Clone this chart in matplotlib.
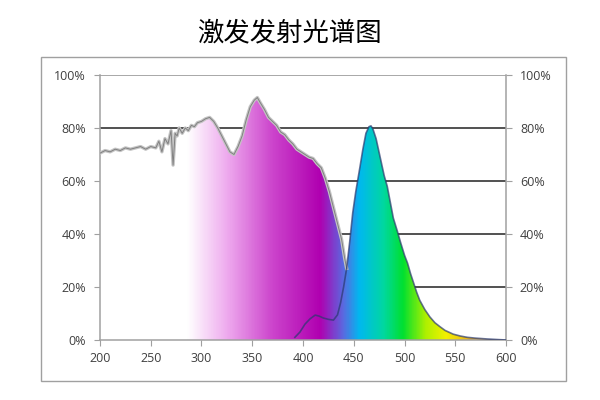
import numpy as np
import matplotlib.pyplot as plt
from matplotlib.colors import LinearSegmentedColormap
from matplotlib.patches import Rectangle

plt.rcParams['font.family'] = ['Noto Sans CJK SC', 'DejaVu Sans']

# excitation spectrum (nm, %)
exc_wl = [200, 205, 210, 215, 220, 225, 230, 235, 240, 245, 250, 255, 258, 261, 264,
          267, 270, 272, 274, 276, 278, 281, 284, 287, 290, 293, 296, 300, 304, 308,
          312, 316, 320, 324, 328, 332, 336, 340, 344, 348, 352, 355, 358, 362, 366,
          370, 374, 378, 382, 386, 390, 394, 398, 402, 406, 410, 414, 418, 422, 426,
          430, 434, 438, 441, 443]
exc_val = [70.5, 71.5, 71, 72, 71.5, 72.5, 72, 72.5, 73, 72, 73, 72.5, 75, 71, 76,
           74, 79, 66, 78, 77, 80, 78, 80, 79, 81, 80.5, 82, 82.5, 83.5, 84,
           82.5, 80, 77, 74, 71, 70, 73, 77, 83, 88, 90.5, 91.5, 89.5, 87, 84,
           82.5, 81, 78.5, 77.5, 75.5, 74, 72, 71, 70, 69, 68.5, 66.5, 65, 61, 56,
           50, 44, 38, 31, 27]

# emission spectrum (nm, %)
em_wl = [392, 397, 402, 407, 412, 416, 420, 425, 430, 434, 437, 440, 443, 446, 449,
         452, 456, 459, 462, 465, 467, 469, 472, 476, 480, 483, 486, 489, 493, 496,
         500, 503, 506, 509, 512, 515, 520, 525, 530, 535, 540, 548, 555, 562, 570,
         581, 590, 600]
em_val = [1, 3, 6, 8, 9.4, 9, 8.3, 7.8, 7.5, 9.5, 14, 20, 27, 37, 48,
          56, 65, 72, 78, 80.5, 80.8, 79.5, 76, 69, 62, 58, 52, 46, 41, 37,
          32, 29, 25, 21.5, 18, 15, 11.5, 8.7, 6.5, 5, 3.6, 2.2, 1.5, 1, 0.7,
          0.4, 0.2, 0]

yticks = [0, 20, 40, 60, 80, 100]
ytick_labels = ['0%', '20%', '40%', '60%', '80%', '100%']
xticks = [200, 250, 300, 350, 400, 450, 500, 550, 600]

# colour stops along wavelength
stop_wl = [200, 286, 325, 370, 417, 440, 456, 480, 499, 522, 542, 565, 600]
stop_col = ['#ffffff', '#ffffff', '#eeaaee', '#cc44cc', '#b000b0', '#5a6ae0',
            '#00b8f0', '#00d8a0', '#00e030', '#b0f000', '#f4f000', '#e8b020', '#e07a20']
cmap = LinearSegmentedColormap.from_list(
    'spec', [((w - 200) / 400, c) for w, c in zip(stop_wl, stop_col)])

fig = plt.figure(figsize=(6, 4), dpi=100)
fig.patches.append(Rectangle((41 / 600, 19 / 400), 525 / 600, 324 / 400,
                             transform=fig.transFigure, fill=False,
                             edgecolor='#a0a0a0', lw=1))
fig.text(0.483, 0.917, '激发发射光谱图', ha='center', va='center', fontsize=19)

ax = fig.add_axes([100 / 600, 60 / 400, 406 / 600, 265 / 400])
ax.set_xlim(200, 600)
ax.set_ylim(0, 100)

grad = np.linspace(0, 1, 800).reshape(1, -1)
for wl, val in [(exc_wl, exc_val), (em_wl, em_val)]:
    poly = ax.fill_between(wl, 0, val, color='none', lw=0)
    im = ax.imshow(grad, cmap=cmap, extent=[200, 600, 0, 100], aspect='auto',
                   origin='lower', zorder=2)
    im.set_clip_path(poly.get_paths()[0], transform=ax.transData)

for y in [20, 40, 60, 80]:
    ax.axhline(y, color='#222222', lw=1.1, zorder=1)
ax.axhline(100, color='#9a9a9a', lw=1.2, zorder=1)

ax.plot(exc_wl, exc_val, color='#c4c4c4', lw=2.4, zorder=3)
ax.plot(exc_wl, exc_val, color='#707070', lw=0.7, alpha=0.8, zorder=3)
ax.plot(em_wl, em_val, color='#2a3a70', lw=1.2, alpha=0.7, zorder=3)

for s in ['left', 'right', 'bottom']:
    ax.spines[s].set_color('#a0a0a0')
    ax.spines[s].set_linewidth(1.1)
ax.spines['top'].set_visible(False)

ax.set_xticks(xticks)
ax.set_xticklabels([str(x) for x in xticks])
ax.set_yticks(yticks)
ax.set_yticklabels(ytick_labels)
ax.tick_params(axis='both', colors='#a0a0a0', labelcolor='#404040',
               labelsize=9, length=4, direction='out')
ax.tick_params(axis='y', right=True, labelright=True, pad=6)
ax.tick_params(axis='x', pad=5)
for t in ax.yaxis.get_major_ticks() + ax.xaxis.get_major_ticks():
    t.label1.set_fontfamily(['Open Sans', 'DejaVu Sans'])
    t.label2.set_fontfamily(['Open Sans', 'DejaVu Sans'])

fig.savefig('out.png', dpi=100)
